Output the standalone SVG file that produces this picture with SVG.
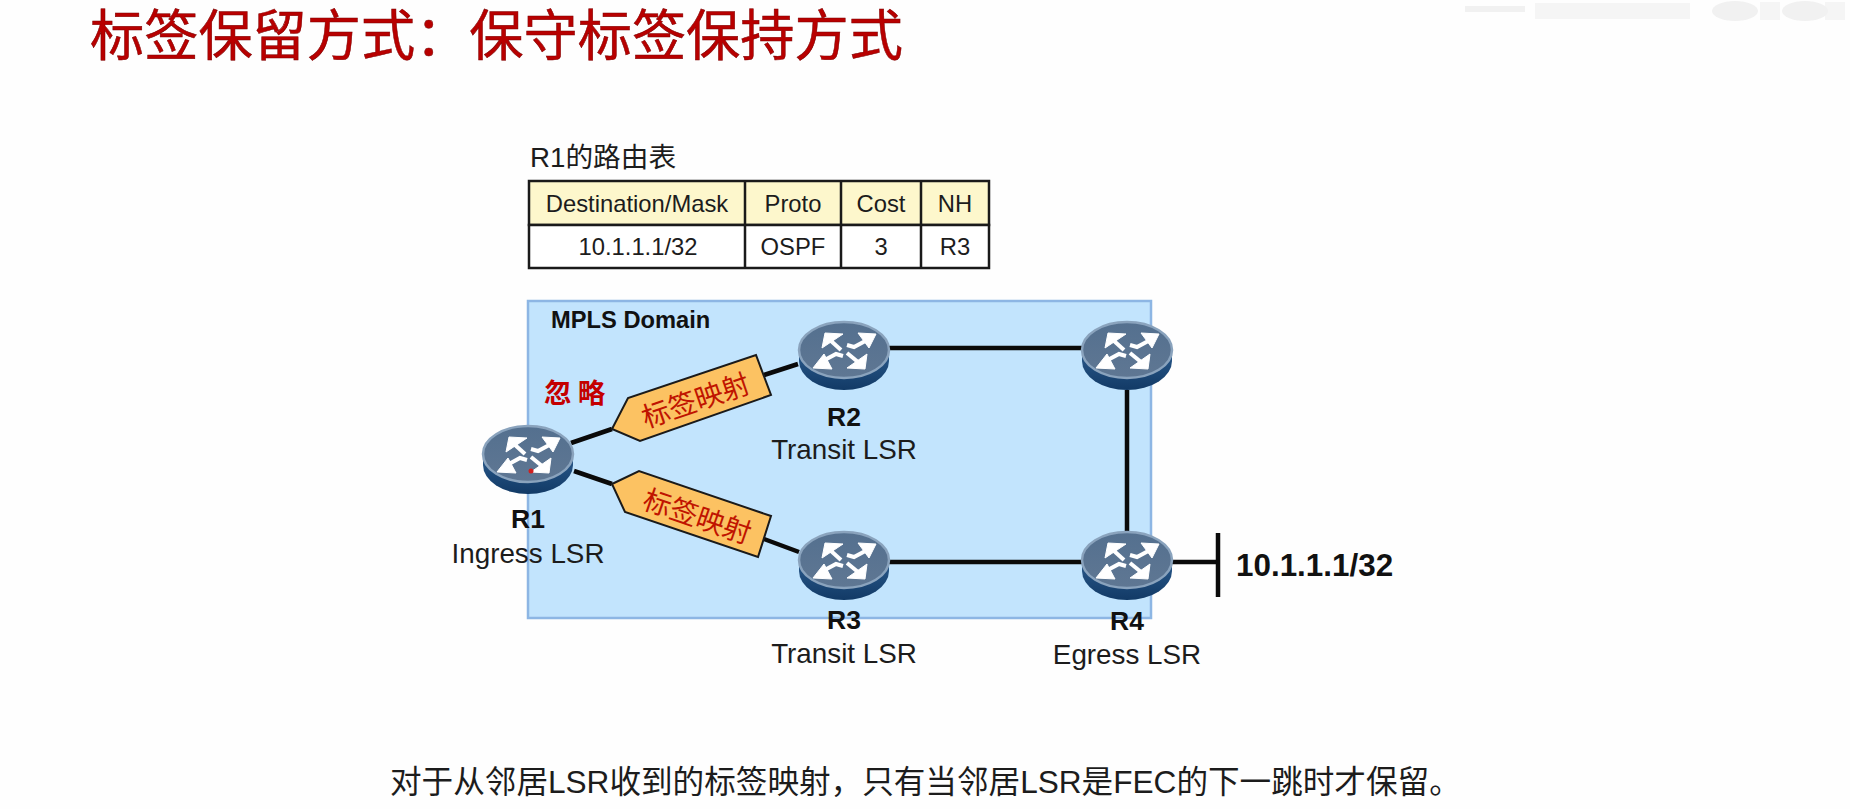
<svg xmlns="http://www.w3.org/2000/svg" width="1850" height="809" viewBox="0 0 1850 809">
<style>
text{font-family:"Liberation Sans","Noto Sans CJK SC",sans-serif;fill:#1c1c1c}
.cjk{font-family:"Noto Sans CJK SC","Liberation Sans",sans-serif}
.b{font-weight:bold;fill:#111}
.m{text-anchor:middle}
.lbl{font-size:27.8px}
.rn{font-size:26.5px}
.t{font-size:23.8px;text-anchor:middle}
.cell{stroke:#1a1a1a;stroke-width:2.5}
.link{stroke:#0a0a0a;stroke-width:4.5;fill:none}
.tag{fill:#fcc262;stroke:#1a1a1a;stroke-width:2}
.tagt{font-size:28px;fill:#c01400;text-anchor:middle}
</style>
<defs>
<linearGradient id="top" x1="0" y1="0" x2="0" y2="1"><stop offset="0" stop-color="#54708f"/><stop offset="1" stop-color="#5f7793"/></linearGradient>
<linearGradient id="side" x1="0" y1="0" x2="0" y2="1"><stop offset="0" stop-color="#2a5a8c"/><stop offset="1" stop-color="#123a66"/></linearGradient>
<g id="router">
<path d="M-45 0V11A45 29 0 0 0 45 11V0Z" fill="url(#side)"/>
<ellipse cx="0" cy="0" rx="45" ry="28" fill="url(#top)" stroke="#8aa3bd" stroke-width="2.5"/>
<g fill="#fff" stroke="#fff" stroke-width="1" stroke-linejoin="round">
<polygon points="32,-16 14,-17 25,-2"/>
<polygon points="-31,18 -20,4 -12,19"/>
<polygon points="-19,-17 -1,-16 -22,-2"/>
<polygon points="21,19 3,18 23,4"/>
</g>
<g fill="none" stroke="#fff" stroke-width="4">
<path d="M25 -11L10 -3L3 -5"/>
<path d="M-23 12L-8 4L-1 6"/>
<path d="M-14 -10L-3 0"/>
<path d="M14 12L3 3"/>
</g>
</g>
</defs>
<rect width="1850" height="809" fill="#fefefe"/>
<g id="watermark" fill="#f1f1f1">
<rect x="1465" y="6" width="60" height="6"/><rect x="1535" y="3" width="155" height="16" opacity=".7"/>
<ellipse cx="1735" cy="11" rx="23" ry="10"/><ellipse cx="1805" cy="11" rx="23" ry="10"/>
<rect x="1760" y="2" width="20" height="18" opacity=".7"/><rect x="1825" y="2" width="20" height="18" opacity=".7"/>
</g>
<text id="title" class="cjk" x="90" y="55" font-size="54.2" style="fill:#b80000;stroke:#7a0000;stroke-width:.5">标签保留方式：保守标签保持方式</text>
<g id="domain">
<rect x="528" y="301" width="623" height="317" fill="#c2e4fd" stroke="#8db6e4" stroke-width="2.5"/>
<text class="b" x="551" y="328" font-size="23.7">MPLS Domain</text>
</g>
<g id="connectors">
<path class="link" d="M571 443L612 429M764 375L798 364"/>
<path class="link" d="M574 471L612 484M764 539L799 552"/>
<path class="link" d="M889 348H1083M889 562H1083M1127 390V531M1171 562H1218"/>
<path class="link" d="M1218 533V597"/>
</g>
<g id="routing-table">
<text x="530" y="167" font-size="27.7">R1的路由表</text>
<rect class="cell" x="529" y="181" width="460" height="44" fill="#fdf7cc"/>
<rect class="cell" x="529" y="225" width="460" height="43" fill="#fff"/>
<path class="cell" d="M745 181V268M841 181V268M921 181V268"/>
<text class="t" x="637" y="212">Destination/Mask</text><text class="t" x="793" y="212">Proto</text><text class="t" x="881" y="212">Cost</text><text class="t" x="955" y="212">NH</text>
<text class="t" x="638" y="255">10.1.1.1/32</text><text class="t" x="793" y="255">OSPF</text><text class="t" x="881" y="255">3</text><text class="t" x="955" y="255">R3</text>
</g>
<g id="tag-upper">
<polygon class="tag" points="612,429 628,398 756,355 771,395 640,441"/>
<text class="tagt cjk" transform="translate(699 410) rotate(-19)">标签映射</text>
</g>
<g id="tag-lower">
<polygon class="tag" points="612,484 639,471 771,516 758,557 625,512"/>
<text class="tagt cjk" transform="translate(694 526) rotate(19)">标签映射</text>
</g>
<text id="ignore" class="cjk" x="544" y="403" font-size="27.6" font-weight="bold" style="fill:#c40000">忽 略</text>
<g id="R1"><use href="#router" x="528" y="454"/><circle cx="531" cy="471" r="2.5" fill="#d02020"/><text class="b m rn" x="528" y="528">R1</text><text class="m lbl" x="528" y="563">Ingress LSR</text></g>
<g id="R2"><use href="#router" x="844" y="350"/><text class="b m rn" x="844" y="426">R2</text><text class="m lbl" x="844" y="459">Transit LSR</text></g>
<g id="R3"><use href="#router" x="844" y="560"/><text class="b m rn" x="844" y="629">R3</text><text class="m lbl" x="844" y="663">Transit LSR</text></g>
<g id="router-top-right"><use href="#router" x="1127" y="350"/></g>
<g id="R4"><use href="#router" x="1127" y="560"/><text class="b m rn" x="1127" y="630">R4</text><text class="m lbl" x="1127" y="664">Egress LSR</text></g>
<text id="prefix" class="b" x="1236" y="576" font-size="31.4">10.1.1.1/32</text>
<text id="note" x="390" y="793" font-size="31.6">对于从邻居LSR收到的标签映射，只有当邻居LSR是FEC的下一跳时才保留。</text>
</svg>
